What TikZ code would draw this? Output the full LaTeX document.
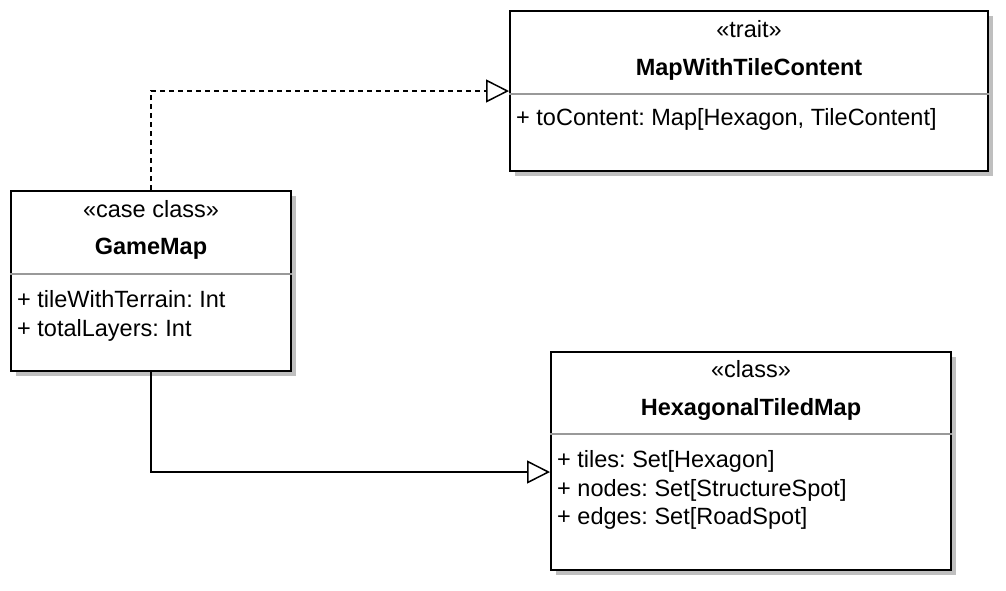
\documentclass[tikz,border=0pt]{standalone}
\usepackage{fontspec}
\setmainfont{Liberation Sans}
\usetikzlibrary{arrows.meta,shadows}
\frenchspacing

\begin{document}
\begin{tikzpicture}[x=1pt,y=-1pt]
%style for class box
\tikzstyle{classbox} = [rectangle, draw=black, fill=white, line width=2pt, inner sep=0pt,
  drop shadow={shadow xshift=5pt, shadow yshift=-5pt, fill=black!25, opacity=1}]

%style for stereotype and class name
\tikzstyle{stereo} = [inner sep=0pt, anchor=base, font=\fontsize{23.5}{28}\selectfont]
\tikzstyle{cname} = [inner sep=0pt, anchor=base, font=\fontsize{23.5}{28}\selectfont\bfseries]

%style for attribute line
\tikzstyle{attr} = [inner sep=0pt, anchor=base west, font=\fontsize{23.5}{28}\selectfont]

%style for separator
\tikzstyle{sep} = [draw=black!40, line width=1.5pt]

%style for realization and generalization
\tikzstyle{realize} = [line width=1.5pt, dash pattern=on 5pt off 4pt, -{Triangle[open, length=23pt, width=23pt]}]
\tikzstyle{inherit} = [line width=1.5pt, -{Triangle[open, length=23pt, width=23pt]}]

\useasboundingbox (0,0) rectangle (1006,590);

%place class boxes
\node[classbox, minimum width=478, minimum height=160] (trait) at (749,91) {};
\node[classbox, minimum width=280, minimum height=180] (game) at (151,281) {};
\node[classbox, minimum width=400, minimum height=218] (hex) at (751,461) {};

%separators
\draw[sep] ([yshift=-84pt]trait.north west) -- ([yshift=-84pt]trait.north east);
\draw[sep] ([yshift=-84pt]game.north west) -- ([yshift=-84pt]game.north east);
\draw[sep] ([yshift=-83pt]hex.north west) -- ([yshift=-83pt]hex.north east);

%MapWithTileContent texts
\node[stereo] (traitStereo) at ([yshift=-27pt]trait.north) {«trait»};
\node[cname] (traitName) at ([yshift=-65pt]trait.north) {MapWithTileContent};
\node[attr] (traitContent) at ([xshift=7pt,yshift=-115pt]trait.north west) {+ toContent: Map[Hexagon, TileContent]};

%GameMap texts
\node[stereo] (gameStereo) at ([yshift=-27pt]game.north) {«case class»};
\node[cname] (gameName) at ([yshift=-64pt]game.north) {GameMap};
\node[attr] (gameTerrain) at ([xshift=7pt,yshift=-117pt]game.north west) {+ tileWithTerrain: Int};
\node[attr] (gameLayers) at ([xshift=7pt,yshift=-146pt]game.north west) {+ totalLayers: Int};

%HexagonalTiledMap texts
\node[stereo] (hexStereo) at ([yshift=-26pt]hex.north) {«class»};
\node[cname] (hexName) at ([yshift=-64pt]hex.north) {HexagonalTiledMap};
\node[attr] (hexTiles) at ([xshift=7pt,yshift=-116pt]hex.north west) {+ tiles: Set[Hexagon]};
\node[attr] (hexNodes) at ([xshift=7pt,yshift=-145pt]hex.north west) {+ nodes: Set[StructureSpot]};
\node[attr] (hexEdges) at ([xshift=7pt,yshift=-173pt]hex.north west) {+ edges: Set[RoadSpot]};

%connectors
\draw[realize] (game.north) |- (trait.west);
\draw[inherit] (game.south) |- ([yshift=-11pt]hex.west);
\end{tikzpicture}
\end{document}
